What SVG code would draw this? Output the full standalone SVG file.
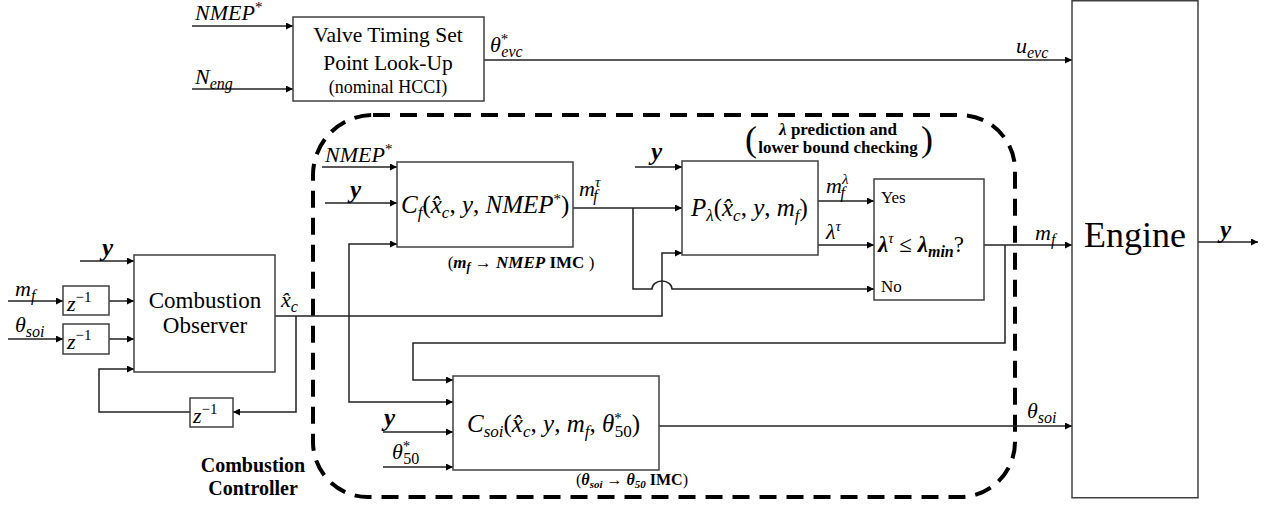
<svg xmlns="http://www.w3.org/2000/svg" width="1268" height="505" viewBox="0 0 1268 505">
<style>
.box{fill:#fff;stroke:#404040;stroke-width:1.5}
.ln{fill:none;stroke:#222;stroke-width:1.5}
.arr{marker-end:url(#ah)}
.dash{fill:none;stroke:#000;stroke-width:4;stroke-dasharray:17 10}
text{font-family:"Liberation Serif","Times New Roman",serif;fill:#000}
.m{font-style:italic}
.bi{font-style:italic;font-weight:bold}
.b{font-weight:bold}
.up{font-style:normal}
</style>
<defs>
<marker id="ah" viewBox="0 0 10 10" refX="10" refY="5" markerWidth="9" markerHeight="7" markerUnits="userSpaceOnUse" orient="auto"><path d="M0,0 L10,5 L0,10 z" fill="#000"/></marker>
</defs>
<rect width="1268" height="505" fill="#fff"/>

<path class="dash" d="M373,115 H960 A55,55 0 0 1 1015,170 V442 A55,55 0 0 1 960,497 H368 A55,55 0 0 1 313,442 V175 A60,60 0 0 1 373,115 Z"/>

<g id="connectors">
<path class="ln arr" d="M192,26 H293"/>
<path class="ln arr" d="M192,89 H293"/>
<path class="ln arr" d="M484,60 H1072"/>
<path class="ln arr" d="M80,261 H134"/>
<path class="ln arr" d="M8,301 H63"/>
<path class="ln arr" d="M109,301 H134"/>
<path class="ln arr" d="M8,339 H63"/>
<path class="ln arr" d="M109,339 H134"/>
<path class="ln arr" d="M275,316 H662 V253 H682"/>
<path class="ln arr" d="M296,316 V412 H233"/>
<path class="ln arr" d="M190,412 H99 V369 H134"/>
<path class="ln arr" d="M349,316 V244 H397"/>
<path class="ln arr" d="M349,316 V402 H453"/>
<path class="ln arr" d="M322,167 H397"/>
<path class="ln arr" d="M325,203 H397"/>
<path class="ln arr" d="M573,208 H682"/>
<path class="ln arr" d="M633,208 V289 H652 A10,8 0 0 1 672,289 H874"/>
<path class="ln arr" d="M635,167 H682"/>
<path class="ln arr" d="M818,201 H874"/>
<path class="ln arr" d="M818,245 H874"/>
<path class="ln arr" d="M984,245 H1072"/>
<path class="ln arr" d="M1005,245 V343 H413 V380 H453"/>
<path class="ln arr" d="M383,432 H453"/>
<path class="ln arr" d="M383,467 H453"/>
<path class="ln arr" d="M659,426 H1072"/>
<path class="ln arr" d="M1198,242 H1258"/>
</g>

<g id="valve">
<rect class="box" x="293" y="17" width="191" height="84"/>
<text x="388" y="42" font-size="21.5" text-anchor="middle">Valve Timing Set</text>
<text x="388" y="70" font-size="21.5" text-anchor="middle">Point Look-Up</text>
<text x="388" y="93" font-size="18" text-anchor="middle">(nominal HCCI)</text>
</g>

<g id="observer">
<rect class="box" x="134" y="255" width="141" height="117"/>
<text x="205" y="308" font-size="23" text-anchor="middle">Combustion</text>
<text x="205" y="333" font-size="23" text-anchor="middle">Observer</text>
</g>

<g id="delay1">
<rect class="box" x="63" y="286" width="46" height="29"/>
<text x="67" y="311" font-size="22" class="m">z<tspan class="up" font-size="15" dy="-9">−1</tspan></text>
</g>
<g id="delay2">
<rect class="box" x="63" y="324" width="46" height="30"/>
<text x="67" y="349" font-size="22" class="m">z<tspan class="up" font-size="15" dy="-9">−1</tspan></text>
</g>
<g id="delay3">
<rect class="box" x="190" y="398" width="43" height="29"/>
<text x="193" y="423" font-size="22" class="m">z<tspan class="up" font-size="15" dy="-9">−1</tspan></text>
</g>

<g id="cf">
<rect class="box" x="397" y="162" width="176" height="85"/>
<text x="401" y="213" font-size="25" class="m">C<tspan font-size="17" dy="5">f</tspan><tspan class="up" dy="-5">(</tspan>x̂<tspan font-size="17" dy="5">c</tspan><tspan class="up" dy="-5">, </tspan>y<tspan class="up">, </tspan>NMEP<tspan class="up" font-size="15" dy="-9">*</tspan><tspan class="up" dy="9">)</tspan></text>
</g>

<g id="plambda">
<rect class="box" x="682" y="161" width="136" height="94"/>
<text x="691" y="216" font-size="25" class="m">P<tspan font-size="17" dy="5">λ</tspan><tspan class="up" dy="-5">(</tspan>x̂<tspan font-size="17" dy="5">c</tspan><tspan class="up" dy="-5">, </tspan>y<tspan class="up">, </tspan>m<tspan font-size="17" dy="5">f</tspan><tspan class="up" dy="-5">)</tspan></text>
</g>

<g id="decision">
<rect class="box" x="874" y="179" width="110" height="121"/>
<text x="881" y="203" font-size="17">Yes</text>
<text x="881" y="292" font-size="17">No</text>
<text x="878" y="252" font-size="23"><tspan class="bi">λ</tspan><tspan class="m" font-size="15" dy="-9">τ</tspan><tspan dy="9"> ≤ </tspan><tspan class="bi">λ</tspan><tspan class="bi" font-size="16" dy="5">min</tspan><tspan dy="-5">?</tspan></text>
</g>

<g id="csoi">
<rect class="box" x="453" y="376" width="206" height="94"/>
<text x="467" y="432" font-size="25" class="m">C<tspan font-size="17" dy="5">soi</tspan><tspan class="up" dy="-5">(</tspan>x̂<tspan font-size="17" dy="5">c</tspan><tspan class="up" dy="-5">, </tspan>y<tspan class="up">, </tspan>m<tspan font-size="17" dy="5">f</tspan><tspan class="up" dy="-5">, </tspan>θ<tspan class="up" font-size="15" dy="-9">*</tspan><tspan class="up" font-size="17" dx="-7" dy="14">50</tspan><tspan class="up" dy="-5">)</tspan></text>
</g>

<g id="engine">
<rect class="box" x="1072" y="0.75" width="126" height="497"/>
<text x="1135" y="247" font-size="36" text-anchor="middle">Engine</text>
</g>

<g id="labels">
<text x="195" y="20" font-size="22" class="m">NMEP<tspan class="up" font-size="15" dy="-8">*</tspan></text>
<text x="195" y="84" font-size="22" class="m">N<tspan font-size="16" dy="5">eng</tspan></text>
<text x="490" y="52" font-size="22" class="m">θ<tspan class="up" font-size="15" dy="-8">*</tspan><tspan font-size="16" dx="-7" dy="13">evc</tspan></text>
<text x="1016" y="53" font-size="22" class="m">u<tspan font-size="16" dy="5">evc</tspan></text>
<text x="102" y="256" font-size="25" class="bi">y</text>
<text x="15" y="296" font-size="22" class="m">m<tspan font-size="16" dy="5">f</tspan></text>
<text x="15" y="332" font-size="22" class="m">θ<tspan font-size="16" dy="5">soi</tspan></text>
<text x="281" y="307" font-size="22" class="m">x̂<tspan font-size="16" dy="5">c</tspan></text>
<text x="325" y="162" font-size="22" class="m">NMEP<tspan class="up" font-size="15" dy="-8">*</tspan></text>
<text x="350" y="198" font-size="25" class="bi">y</text>
<text x="579" y="196" font-size="22" class="m">m<tspan font-size="15" dy="-9">τ</tspan><tspan font-size="16" dx="-7" dy="14">f</tspan></text>
<text x="521" y="268" font-size="17" text-anchor="middle">(<tspan class="bi">m<tspan font-size="12" dy="3">f</tspan></tspan><tspan dy="-3"> → </tspan><tspan class="bi">NMEP</tspan><tspan class="b"> IMC </tspan>)</text>
<text x="651" y="160" font-size="25" class="bi">y</text>
<text x="826" y="193" font-size="22" class="m">m<tspan font-size="15" dy="-9">λ</tspan><tspan font-size="16" dx="-8" dy="14">f</tspan></text>
<text x="826" y="239" font-size="22" class="m">λ<tspan font-size="15" dy="-8">τ</tspan></text>
<text x="745" y="151" font-size="36">(</text>
<text x="921" y="151" font-size="36">)</text>
<text x="838" y="135" font-size="17" text-anchor="middle" class="b"><tspan class="bi">λ</tspan> prediction and</text>
<text x="838" y="153" font-size="17" text-anchor="middle" class="b">lower bound checking</text>
<text x="1035" y="240" font-size="22" class="m">m<tspan font-size="16" dy="5">f</tspan></text>
<text x="1220" y="238" font-size="25" class="bi">y</text>
<text x="384" y="426" font-size="25" class="bi">y</text>
<text x="392" y="459" font-size="22" class="m">θ<tspan class="up" font-size="15" dy="-8">*</tspan><tspan class="up" font-size="16" dx="-7" dy="13">50</tspan></text>
<text x="632" y="485" font-size="16" text-anchor="middle">(<tspan class="bi">θ<tspan font-size="11" dy="3">soi</tspan></tspan><tspan dy="-3"> → </tspan><tspan class="bi">θ<tspan font-size="11" dy="3" class="b">50</tspan></tspan><tspan class="b" dy="-3"> IMC</tspan>)</text>
<text x="1027" y="418" font-size="22" class="m">θ<tspan font-size="16" dy="5">soi</tspan></text>
<text x="253" y="472" font-size="20" class="b" text-anchor="middle">Combustion</text>
<text x="253" y="495" font-size="20" class="b" text-anchor="middle">Controller</text>
</g>
</svg>
